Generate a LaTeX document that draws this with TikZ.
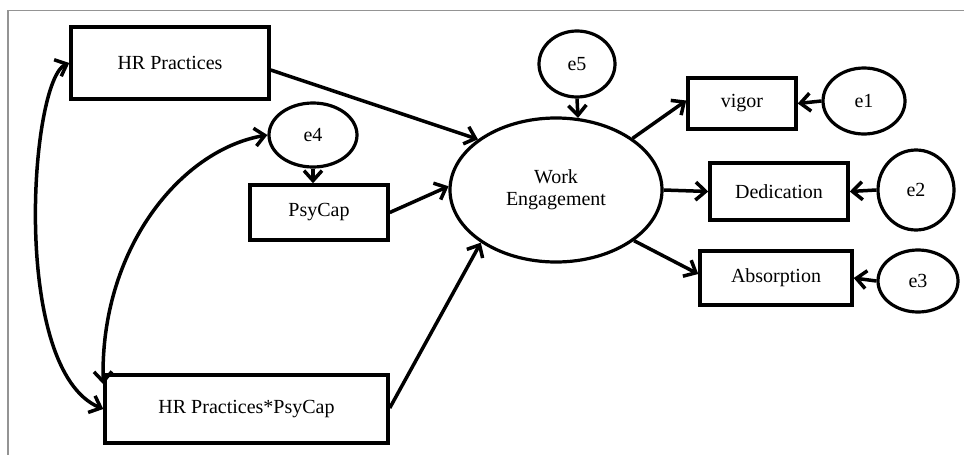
\documentclass[tikz,border=0pt]{standalone}
\usepackage{fontspec}
\setmainfont{Liberation Serif}
\usetikzlibrary{arrows.meta,shapes.geometric}

\tikzset{
  every node/.style={font=\fontsize{20}{22}\selectfont},
  var/.style={draw, line width=3.5pt, rectangle, inner sep=0pt, align=center},
  lat/.style={draw, line width=3.2pt, ellipse, inner sep=0pt, align=center},
  tip/.tip={Straight Barb[length=10pt,width=18pt]},
  arr/.style={line width=3.5pt, -tip},
  cov/.style={line width=3.5pt, tip-tip},
  frame/.style={draw=black!42, line width=1.5pt}
}

\begin{document}
\begin{tikzpicture}[x=1pt, y=-1pt]
  \useasboundingbox (0,0) rectangle (964,455);

  % page frame (top and left rules)
  \draw[frame] (964,10.5) -- (8,10.5) -- (8,455);

  % observed variables
  \node[var, minimum width=198pt, minimum height=72pt] (hr)  at (170,63)    {HR Practices};
  \node[var, minimum width=138pt, minimum height=55pt] (psy) at (319,212.5) {PsyCap};
  \node[var, minimum width=283pt, minimum height=68pt] (int) at (246.5,409) {HR Practices*PsyCap};
  \node[var, minimum width=108pt, minimum height=51pt] (vig) at (742,103.5) {vigor};
  \node[var, minimum width=138pt, minimum height=57pt] (ded) at (779,191.5) {Dedication};
  \node[var, minimum width=152pt, minimum height=54pt] (abs) at (776,278)   {Absorption};

  % latent variable and error terms
  \node[lat, minimum width=212pt, minimum height=144pt] (we) at (556,190) {Work\\Engagement};
  \node[lat, minimum width=76pt, minimum height=66pt] (e5) at (577,64)  {e5};
  \node[lat, minimum width=88pt, minimum height=64pt] (e4) at (313,135) {e4};
  \node[lat, minimum width=82pt, minimum height=66pt] (e1) at (864,101) {e1};
  \node[lat, minimum width=76pt, minimum height=80pt] (e2) at (916,190) {e2};
  \node[lat, minimum width=80pt, minimum height=62pt] (e3) at (918,281) {e3};

  % structural paths
  \draw[arr] ([yshift=-7pt]hr.east) -- (we.147);
  \draw[arr] (psy.east) -- (we.178);
  \draw[arr] ([yshift=1pt]int.east) -- (we.215);
  \draw[arr] (e5.south) -- (we.73.5);
  \draw[arr] (e4.south) -- (e4.south |- psy.north);

  % measurement paths
  \draw[arr] (we.34) -- ([yshift=3pt]vig.west);
  \draw[arr] (we.east) -- (ded.west);
  \draw[arr] (we.-33) -- ([yshift=4pt]abs.west);
  \draw[arr] (e1.west) -- (vig.east);
  \draw[arr] (e2.west) -- (ded.east);
  \draw[arr] (e3.west) -- (abs.east);

  % covariances
  \draw[cov] (hr.west) .. controls (30,80) and (10,370) .. (int.west);
  \draw[cov] (e4.west) .. controls (180,150) and (100,250) .. ([yshift=-11pt]int.north west);
\end{tikzpicture}
\end{document}
